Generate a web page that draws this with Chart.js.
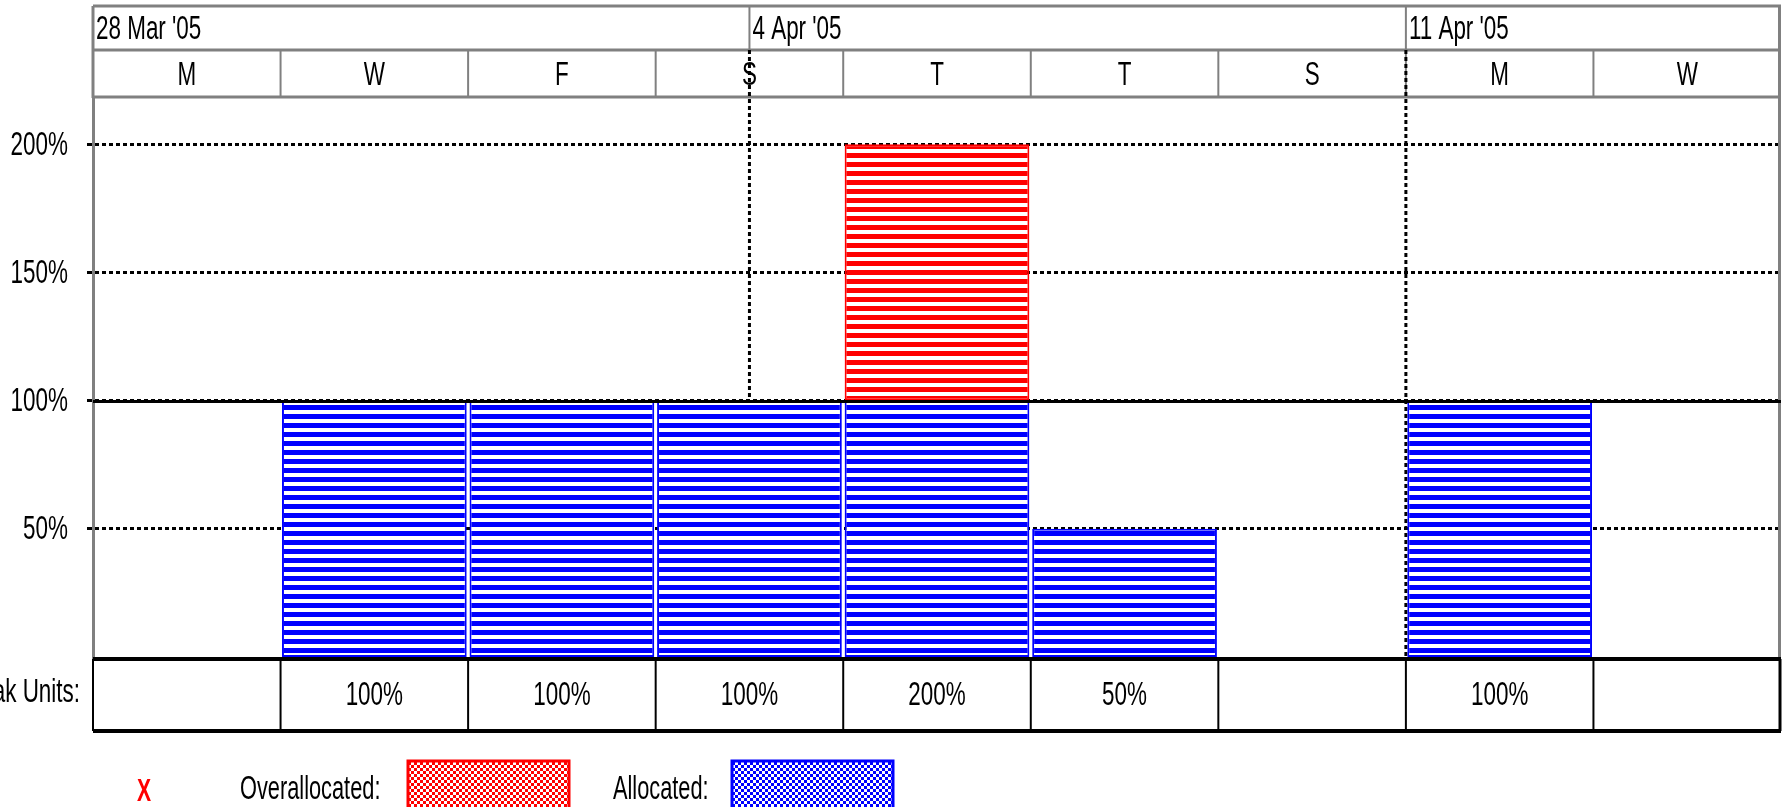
<!DOCTYPE html>
<html>
<head>
<meta charset="utf-8">
<script src="https://cdn.jsdelivr.net/npm/chart.js@4.4.0/dist/chart.umd.min.js"></script>
<style>
  body { margin: 0; background: #fff; overflow: hidden; }
  canvas { display: block; }
</style>
</head>
<body>
<canvas id="graph" width="1787" height="807"></canvas>
<script>
// timescale: one column per two days
const days = ['M', 'W', 'F', 'S', 'T', 'T', 'S', 'M', 'W'];
const weekLabels = ["28 Mar '05", "4 Apr '05", "11 Apr '05"];
const weekStarts = [-0.5, 3, 6.5];   // in column units
const allocated = [0, 100, 100, 100, 100, 50, 0, 100, 0];
const overallocated = [0, 0, 0, 0, 100, 0, 0, 0, 0];
const peakUnits = ['', '100%', '100%', '100%', '200%', '50%', '', '100%', ''];
const yTicks = [50, 100, 150, 200];
const maxUnits = 100;

const FONT = '"Liberation Sans", Arial, sans-serif';
const NARROW = 0.66;   // the original uses a narrow face
const GRAY = '#808080';

function stripes(color) {
    const c = document.createElement('canvas');
    c.width = 8; c.height = 9;
    const g = c.getContext('2d');
    g.fillStyle = '#fff';
    g.fillRect(0, 0, 8, 9);
    g.fillStyle = color;
    g.fillRect(0, 0, 8, 5);
    return g.createPattern(c, 'repeat');
}

function checker(color) {
    const c = document.createElement('canvas');
    c.width = 6; c.height = 6;
    const g = c.getContext('2d');
    g.fillStyle = '#fff';
    g.fillRect(0, 0, 6, 6);
    g.fillStyle = color;
    g.fillRect(0, 0, 3, 3);
    g.fillRect(3, 3, 3, 3);
    return g.createPattern(c, 'repeat');
}

function line(ctx, x1, y1, x2, y2, color, width, dash) {
    ctx.save();
    ctx.strokeStyle = color;
    ctx.lineWidth = width;
    ctx.setLineDash(dash || []);
    ctx.beginPath();
    ctx.moveTo(x1, y1);
    ctx.lineTo(x2, y2);
    ctx.stroke();
    ctx.restore();
}

function text(ctx, str, x, y, size, align, color, bold) {
    ctx.save();
    ctx.translate(x, y);
    ctx.scale(NARROW, 1);
    ctx.font = (bold ? 'bold ' : '') + size + 'px ' + FONT;
    ctx.fillStyle = color || '#000';
    ctx.textAlign = align;
    ctx.textBaseline = 'middle';
    ctx.fillText(str, 0, 0);
    ctx.restore();
}

const TOP = 6, DATE_BOTTOM = 50, DAY_BOTTOM = 97, TABLE_BOTTOM = 731;

const framePlugin = {
    id: 'frame',
    beforeDatasetsDraw(chart) {
        const ctx = chart.ctx;
        const area = chart.chartArea;
        const x = chart.scales.x;
        const y = chart.scales.y;
        const w = x.getPixelForValue(1) - x.getPixelForValue(0);
        const colX = v => x.getPixelForValue(0) + v * w;

        // header rows
        line(ctx, area.left, TOP, area.right, TOP, GRAY, 3);
        line(ctx, area.left, DATE_BOTTOM, area.right, DATE_BOTTOM, GRAY, 3);
        line(ctx, area.left, DAY_BOTTOM, area.right, DAY_BOTTOM, GRAY, 3);
        line(ctx, area.right - 1.5, TOP, area.right - 1.5, area.bottom, GRAY, 3);
        line(ctx, area.left, TOP, area.left, area.top, GRAY, 3);
        weekLabels.forEach((lbl, i) => {
            const px = colX(weekStarts[i]);
            if (i > 0) line(ctx, px, TOP, px, DATE_BOTTOM, GRAY, 2);
            text(ctx, lbl, px + 3, (TOP + DATE_BOTTOM) / 2 + 2, 34, 'left');
        });
        days.forEach((d, i) => {
            const cx = x.getPixelForValue(i);
            if (i > 0) line(ctx, cx - w / 2, DATE_BOTTOM, cx - w / 2, DAY_BOTTOM, GRAY, 2);
            text(ctx, d, cx, (DATE_BOTTOM + DAY_BOTTOM) / 2 + 2, 34, 'center');
        });

        // y tick labels
        yTicks.forEach(v => {
            text(ctx, v + '%', 68, y.getPixelForValue(v) + 1, 34, 'right');
        });

        // week boundaries
        weekStarts.slice(1).forEach(v => {
            const px = colX(v);
            line(ctx, px, DATE_BOTTOM, px, area.bottom, '#000', 3, [4, 3]);
        });
    },
    afterDatasetsDraw(chart) {
        const ctx = chart.ctx;
        const area = chart.chartArea;
        const x = chart.scales.x;
        const y = chart.scales.y;
        const w = x.getPixelForValue(1) - x.getPixelForValue(0);

        // max units line
        const my = y.getPixelForValue(maxUnits) + 1;
        line(ctx, area.left, my, area.right, my, '#000', 3);

        // peak units table
        const tTop = area.bottom + 2;
        line(ctx, area.left, tTop, area.right, tTop, '#000', 4);
        line(ctx, area.left, TABLE_BOTTOM, area.right, TABLE_BOTTOM, '#000', 4);
        line(ctx, area.left, tTop, area.left, TABLE_BOTTOM, '#000', 2);
        line(ctx, area.right - 1, tTop, area.right - 1, TABLE_BOTTOM, '#000', 3);
        peakUnits.forEach((v, i) => {
            const cx = x.getPixelForValue(i);
            if (i > 0) line(ctx, cx - w / 2, tTop, cx - w / 2, TABLE_BOTTOM, '#000', 2);
            text(ctx, v, cx, (tTop + TABLE_BOTTOM) / 2 + 1, 34, 'center');
        });
        text(ctx, 'Peak Units:', 80, (tTop + TABLE_BOTTOM) / 2 - 2, 34, 'right');

        // legend
        const ly = 790;
        text(ctx, 'X', 144, ly + 2, 32, 'center', '#ff0000', true);
        text(ctx, 'Overallocated:', 240, ly, 33, 'left');
        text(ctx, 'Allocated:', 613, ly, 33, 'left');
        [[408, '#ff0000'], [732, '#0000ff']].forEach(([lx, col]) => {
            ctx.save();
            ctx.fillStyle = checker(col);
            ctx.fillRect(lx, 761, 161, 50);
            ctx.strokeStyle = col;
            ctx.lineWidth = 3;
            ctx.strokeRect(lx, 761, 161, 50);
            ctx.restore();
        });
    }
};

new Chart(document.getElementById('graph'), {
    type: 'bar',
    data: {
        labels: days,
        datasets: [
            {
                label: 'Allocated',
                data: allocated,
                backgroundColor: stripes('#0000ff'),
                borderColor: '#0000ff',
                borderWidth: 2,
                borderSkipped: false
            },
            {
                label: 'Overallocated',
                data: overallocated,
                backgroundColor: stripes('#ff0000'),
                borderColor: '#ff0000',
                borderWidth: 2,
                borderSkipped: false
            }
        ]
    },
    options: {
        responsive: false,
        animation: false,
        layout: { padding: { left: 0, right: 6, top: 98, bottom: 150 } },
        datasets: { bar: { barPercentage: 0.985, categoryPercentage: 1 } },
        plugins: { legend: { display: false }, tooltip: { enabled: false } },
        scales: {
            x: { stacked: true, display: false },
            y: {
                stacked: true,
                min: 0,
                max: 218,
                afterFit: s => { s.width = 93; },
                afterBuildTicks: s => { s.ticks = yTicks.map(v => ({ value: v })); },
                ticks: { display: false },
                grid: {
                    color: '#000',
                    lineWidth: 3,
                    tickLength: 6,
                    tickColor: '#000',
                    tickWidth: 3
                },
                border: { color: GRAY, width: 3, dash: [4, 3] }
            }
        }
    },
    plugins: [framePlugin]
});
</script>
</body>
</html>
